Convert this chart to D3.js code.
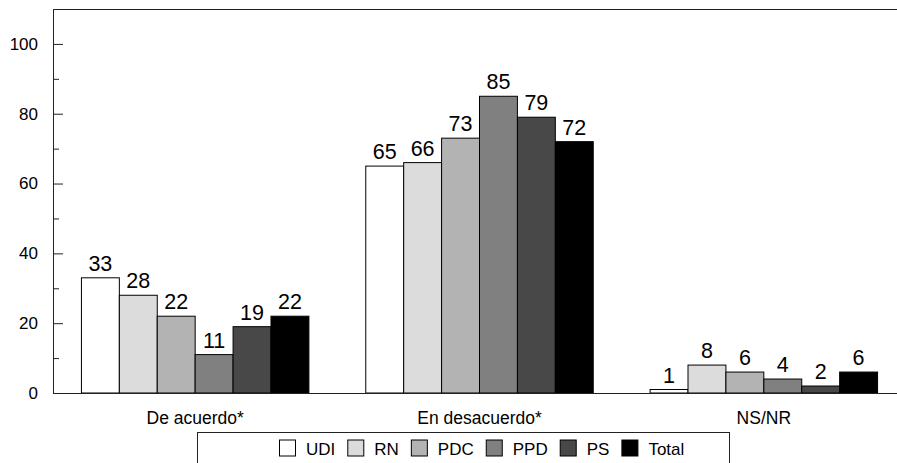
<!DOCTYPE html>
<html>
<head>
<meta charset="utf-8">
<script src="https://cdn.jsdelivr.net/npm/d3@7"></script>
<style>
  body { margin: 0; background: #fff; }
  svg { display: block; font-family: "Liberation Sans", Arial, sans-serif; }
</style>
</head>
<body>
<div id="chart"></div>
<script>
// Chart data
const categories = ['De acuerdo*', 'En desacuerdo*', 'NS/NR'];
const parties = ['UDI', 'RN', 'PDC', 'PPD', 'PS', 'Total'];
const colors = ['#ffffff', '#dcdcdc', '#b3b3b3', '#808080', '#484848', '#000000'];
const values = {
  'UDI':   [33, 65, 1],
  'RN':    [28, 66, 8],
  'PDC':   [22, 73, 6],
  'PPD':   [11, 85, 4],
  'PS':    [19, 79, 2],
  'Total': [22, 72, 6]
};
const yTicks = [0, 20, 40, 60, 80, 100];
const yMinorTicks = [10, 30, 50, 70, 90];

const width = 897, height = 463;
const margin = { top: 9, left: 53, bottom: 70 };
const plotRight = 906; // plot runs past the visible edge
const plotBottom = height - margin.bottom;

const svg = d3.select('#chart')
  .append('svg')
  .attr('width', width)
  .attr('height', height);

// Scales
const x0 = d3.scaleBand()
  .domain(categories)
  .range([margin.left, plotRight])
  .paddingInner(0.2)
  .paddingOuter(0.1);

const x1 = d3.scaleBand()
  .domain(parties)
  .range([0, x0.bandwidth()]);

const y = d3.scaleLinear()
  .domain([0, 110])
  .range([plotBottom, margin.top]);

const color = d3.scaleOrdinal().domain(parties).range(colors);

// Frame: top border
svg.append('line')
  .attr('x1', margin.left).attr('x2', width)
  .attr('y1', margin.top + 0.5).attr('y2', margin.top + 0.5)
  .attr('stroke', '#222').attr('stroke-width', 1.2);

// Bars
const groups = svg.append('g')
  .selectAll('g')
  .data(categories)
  .join('g')
  .attr('transform', d => `translate(${x0(d)},0)`);

groups.selectAll('rect')
  .data((c, i) => parties.map(p => ({ party: p, value: values[p][i] })))
  .join('rect')
  .attr('x', d => x1(d.party))
  .attr('y', d => y(d.value))
  .attr('width', x1.bandwidth())
  .attr('height', d => y(0) - y(d.value))
  .attr('fill', d => color(d.party))
  .attr('stroke', '#000')
  .attr('stroke-width', 1);

// Value labels
groups.selectAll('text')
  .data((c, i) => parties.map(p => ({ party: p, value: values[p][i] })))
  .join('text')
  .attr('x', d => x1(d.party) + x1.bandwidth() / 2)
  .attr('y', d => y(d.value) - 7)
  .attr('text-anchor', 'middle')
  .attr('font-size', '21.5px')
  .attr('fill', '#000')
  .text(d => d.value);

// Y axis (ticks pointing inward)
const yAxis = d3.axisLeft(y)
  .tickValues(yTicks)
  .tickSize(-10)
  .tickPadding(15)
  .tickFormat(d3.format('d'));

const yAxisG = svg.append('g')
  .attr('transform', `translate(${margin.left},0)`)
  .call(yAxis);

yAxisG.select('.domain')
  .attr('d', `M0.5,${margin.top}V${plotBottom}`)
  .attr('stroke', '#222');
yAxisG.selectAll('.tick line').attr('stroke', '#222');
yAxisG.selectAll('.tick text')
  .attr('font-size', '17px')
  .attr('fill', '#000');

svg.append('g')
  .selectAll('line')
  .data(yMinorTicks)
  .join('line')
  .attr('x1', margin.left).attr('x2', margin.left + 6)
  .attr('y1', d => y(d) + 0.5).attr('y2', d => y(d) + 0.5)
  .attr('stroke', '#222');

// X axis baseline and category labels
const xAxis = d3.axisBottom(x0).tickSize(0);
const xAxisG = svg.append('g')
  .attr('transform', `translate(0,${plotBottom})`)
  .call(xAxis);

xAxisG.select('.domain')
  .attr('d', `M${margin.left},0.5H${width}`)
  .attr('stroke', '#222')
  .attr('stroke-width', 1.2);
xAxisG.selectAll('.tick text')
  .attr('y', 31)
  .attr('dy', null)
  .attr('font-size', '17.5px')
  .attr('fill', '#000');

// Legend
const legend = svg.append('g');
legend.append('rect')
  .attr('x', 197.5).attr('y', 432.5)
  .attr('width', 532).attr('height', 40)
  .attr('fill', '#fff')
  .attr('stroke', '#222');

const items = legend.selectAll('g')
  .data(parties)
  .join('g');

items.append('rect')
  .attr('x', 0.5).attr('y', 0.5)
  .attr('width', 16).attr('height', 16)
  .attr('fill', d => color(d))
  .attr('stroke', '#000');

items.append('text')
  .attr('x', 27)
  .attr('y', 15.5)
  .attr('font-size', '17px')
  .attr('fill', '#000')
  .text(d => d);

// lay legend items out left to right from measured text widths
let lx = 279;
items.each(function() {
  const g = d3.select(this);
  g.attr('transform', `translate(${lx},439.5)`);
  lx += 27 + g.select('text').node().getComputedTextLength() + 12;
});
</script>
</body>
</html>
